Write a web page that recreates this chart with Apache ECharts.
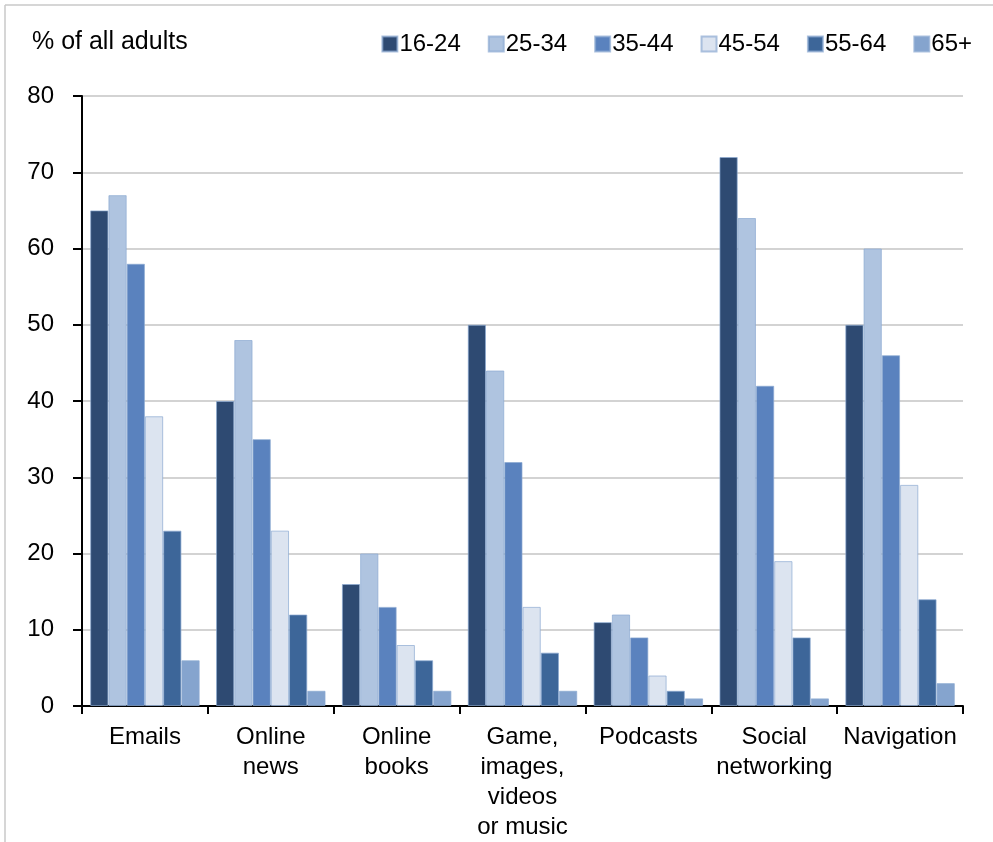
<!DOCTYPE html>
<html>
<head>
<meta charset="utf-8">
<script src="https://cdn.jsdelivr.net/npm/echarts@6/dist/echarts.min.js"></script>
<style>
  html, body { margin: 0; padding: 0; background: #fff; }
  #chart { width: 993px; height: 842px; }
</style>
</head>
<body>
<div id="chart"></div>
<script>
// 类目和各年龄段数据
var categories = ['Emails', 'Online\nnews', 'Online\nbooks', 'Game,\nimages,\nvideos\nor music', 'Podcasts', 'Social\nnetworking', 'Navigation'];
var ageGroups = ['16-24', '25-34', '35-44', '45-54', '55-64', '65+'];
var age1624 = [65, 40, 16, 50, 11, 72, 50];
var age2534 = [67, 48, 20, 44, 12, 64, 60];
var age3544 = [58, 35, 13, 32, 9, 42, 46];
var age4554 = [38, 23, 8, 13, 4, 19, 29];
var age5564 = [23, 12, 6, 7, 2, 9, 14];
var age65 = [6, 2, 2, 2, 1, 1, 3];
var yTicks = [0, 10, 20, 30, 40, 50, 60, 70, 80];

var colors = ['#2E4A72', '#AFC4E0', '#5A82BE', '#DCE4F0', '#3D6699', '#85A4CE'];
var seriesData = [age1624, age2534, age3544, age4554, age5564, age65];
var font = 'Liberation Sans, Arial, sans-serif';

var myChart = echarts.init(document.getElementById('chart'));

var series = [];
for (var i = 0; i < ageGroups.length; i++) {
    series.push({
        name: ageGroups[i],
        type: 'bar',
        barGap: '0%',
        barCategoryGap: '13%',
        itemStyle: {
            color: colors[i],
            borderColor: 'rgba(140,170,210,0.7)',
            borderWidth: 1
        },
        data: seriesData[i]
    });
}

var option = {
    backgroundColor: '#fff',
    animation: false,
    color: colors,
    textStyle: { fontFamily: font },
    graphic: [
        // 外框（上、左）
        { type: 'line', shape: { x1: 5, y1: 5, x2: 993, y2: 5 }, style: { stroke: '#c8c8c8', lineWidth: 1.5 } },
        { type: 'line', shape: { x1: 5, y1: 5, x2: 5, y2: 842 }, style: { stroke: '#c8c8c8', lineWidth: 1.5 } },
        {
            type: 'text', left: 32, top: 30,
            style: { text: '% of all adults', font: '25px ' + font, fill: '#000' }
        }
    ],
    legend: {
        data: ageGroups,
        right: 16,
        top: 27,
        itemWidth: 15,
        itemHeight: 15,
        itemGap: 27,
        icon: 'rect',
        textStyle: { fontSize: 24, color: '#000', fontFamily: font, padding: [0, 0, 0, -3] }
    },
    grid: {
        left: 82,
        right: 30,
        top: 96,
        bottom: 136
    },
    xAxis: {
        type: 'category',
        data: categories,
        axisLine: { show: true, lineStyle: { color: '#000', width: 2 } },
        axisTick: { show: true, length: 8, lineStyle: { color: '#000', width: 2 } },
        axisLabel: {
            interval: 0,
            color: '#000',
            fontSize: 24,
            lineHeight: 30,
            margin: 16,
            fontFamily: font
        }
    },
    yAxis: {
        type: 'value',
        min: yTicks[0],
        max: yTicks[yTicks.length - 1],
        interval: 10,
        axisLine: { show: true, lineStyle: { color: '#000', width: 2 } },
        axisTick: { show: true, length: 9, lineStyle: { color: '#000', width: 2 } },
        axisLabel: { color: '#000', fontSize: 24, margin: 28, fontFamily: font },
        splitLine: { show: true, lineStyle: { color: '#c4c4c4', width: 1.5 } }
    },
    series: series
};

myChart.setOption(option);
</script>
</body>
</html>
